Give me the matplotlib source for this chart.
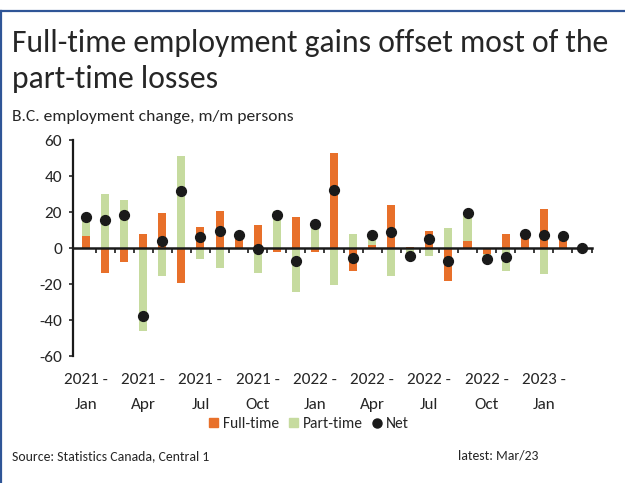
import matplotlib
matplotlib.use("Agg")
import matplotlib.pyplot as plt
import matplotlib.transforms as mtransforms
from matplotlib import font_manager
from matplotlib.lines import Line2D
from matplotlib.patches import Patch
import numpy as np

# monthly data, Jan 2021 .. Mar 2023 (thousands of persons, m/m change)
months = ["2021 -\nJan", "", "", "2021 -\nApr", "", "", "2021 -\nJul", "", "",
          "2021 -\nOct", "", "", "2022 -\nJan", "", "", "2022 -\nApr", "", "",
          "2022 -\nJul", "", "", "2022 -\nOct", "", "", "2023 -\nJan", "", ""]
full_time = [6.5, -14, -8, 8, 19.5, -19.3, 11.7, 20.8, 5, 12.6, -2, 17.5, -2,
             52.6, -13, 1.5, 23.8, 0.5, 9.5, -18.6, 3.7, -3.5, 7.8, 7.8, 21.9, 4.5, 0.3]
part_time = [10.5, 30, 26.4, -45.9, -15.8, 50.9, -5.9, -11.3, 2, -13.9, 20.5, -24.7, 15,
             -20.4, 7.6, 6, -15.6, -5, -4.5, 11, 15.4, -3, -12.8, 0, -14.5, 2, -0.5]
net = [17.1, 15.8, 18.4, -37.9, 3.9, 31.6, 6.1, 9.5, 7.2, -0.6, 18.4, -7.2, 13.2,
       32.3, -5.4, 7.3, 8.7, -4.6, 5.2, -7.4, 19.5, -6.3, -4.8, 7.6, 7.4, 6.7, -0.2]

ORANGE = "#E8702A"
GREEN = "#C6DB9F"
TEXT = "#262626"

names = {f.name for f in font_manager.fontManager.ttflist}
FONT = "Carlito" if "Carlito" in names else "Lato"
plt.rcParams["font.family"] = [FONT, "DejaVu Sans"]
plt.rcParams["axes.unicode_minus"] = False

W, H = 625, 483
fig = plt.figure(figsize=(W / 100, H / 100), dpi=100)


def fx(px):
    return px / W


def fy(py):
    return 1 - py / H


ax = fig.add_axes([fx(73), fy(356), fx(591.5) - fx(73), fy(140) - fy(356)])

x = np.arange(len(months))
ft = np.array(full_time)
pt = np.array(part_time)
# excel-style stacking: same sign stacks on top of full-time, opposite sign starts at 0
pt_bottom = np.where(np.sign(ft) == np.sign(pt), ft, 0)

ax.bar(x, ft, width=0.42, color=ORANGE, zorder=2)
ax.bar(x, pt, width=0.42, bottom=pt_bottom, color=GREEN, zorder=2)
ax.scatter(x, net, s=50, color="#1a1a1a", zorder=4)

ax.set_xlim(-0.68, len(months) - 0.5)
ax.set_ylim(-60, 60)
ax.set_yticks(range(-60, 61, 20))
ax.tick_params(axis="y", length=3, width=1.2, pad=5, labelsize=12.3, colors=TEXT)

for s in ["top", "right"]:
    ax.spines[s].set_visible(False)
ax.spines["left"].set_linewidth(1.6)
ax.spines["left"].set_color("#1a1a1a")
ax.spines["bottom"].set_position(("data", 0))
ax.spines["bottom"].set_linewidth(1.8)
ax.spines["bottom"].set_color("#1a1a1a")
ax.spines["bottom"].set_zorder(3)

# tick marks between categories on the zero line, labels at the bottom
ax.set_xticks(np.append(x - 0.5, len(months) - 0.5)[1:])
ax.tick_params(axis="x", length=3.5, width=1.2, labelbottom=False, color="#1a1a1a")

trans = mtransforms.blended_transform_factory(ax.transData, fig.transFigure)
for i, lab in enumerate(months):
    if lab:
        ax.text(i, fy(373), lab, transform=trans, ha="center", va="top",
                fontsize=12.3, color=TEXT, linespacing=2.0)

fig.text(fx(12), fy(43), "Full-time employment gains offset most of the",
         fontsize=22.8, color=TEXT, va="center", ha="left")
fig.text(fx(12), fy(79), "part-time losses",
         fontsize=22.8, color=TEXT, va="center", ha="left")
fig.text(fx(12), fy(117), "B.C. employment change, m/m persons",
         fontsize=12.6, color=TEXT, va="center", ha="left")
fig.text(fx(12), fy(456), "Source: Statistics Canada, Central 1",
         fontsize=9.9, color=TEXT, va="center", ha="left")
fig.text(fx(458), fy(456), "latest: Mar/23",
         fontsize=9.9, color=TEXT, va="center", ha="left")

handles = [Patch(color=ORANGE, label="Full-time"),
           Patch(color=GREEN, label="Part-time"),
           Line2D([], [], marker="o", ls="", color="#1a1a1a", markersize=6.5, label="Net")]
fig.legend(handles=handles, loc="center", bbox_to_anchor=(fx(309), fy(424)), ncol=3,
           frameon=False, fontsize=11.2, handlelength=0.6, handleheight=0.6,
           handletextpad=0.3, columnspacing=0.6, labelcolor=TEXT)

# blue frame on top and left edges
fig.add_artist(Line2D([0, 1], [fy(11), fy(11)], transform=fig.transFigure,
                      color="#2F5597", lw=1.6))
fig.add_artist(Line2D([fx(1.5), fx(1.5)], [0, fy(11)], transform=fig.transFigure,
                      color="#2F5597", lw=1.6))

fig.savefig("out.png", dpi=100)
